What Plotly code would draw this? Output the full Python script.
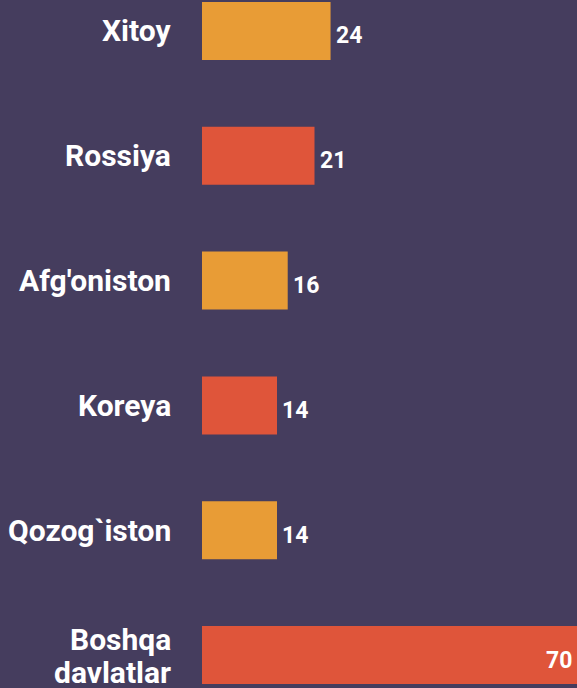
import plotly.graph_objects as go

categories = ["Xitoy", "Rossiya", "Afg'oniston", "Koreya", "Qozog`iston", "Boshqa davlatlar"]
label_lines = [["Xitoy"], ["Rossiya"], ["Afg'oniston"], ["Koreya"], ["Qozog`iston"], ["Boshqa", "davlatlar"]]
values = [24, 21, 16, 14, 14, 70]
colors = ["#e89c36", "#df553a", "#e89c36", "#df553a", "#e89c36", "#df553a"]
inside_label = [False, False, False, False, False, True]

BG = "#453d5e"
label_font = dict(family="Roboto", size=30, color="white", weight="bold")
value_font = dict(family="Roboto", size=23, color="white", weight="bold")

fig = go.Figure(go.Bar(
    x=values,
    y=categories,
    orientation="h",
    marker=dict(color=colors, line=dict(width=0)),
    width=0.465,
    hoverinfo="x+y",
))

annotations = []
for cat, lines in zip(categories, label_lines):
    n = len(lines)
    for i, line in enumerate(lines):
        shift = 0 if n == 1 else (16 if i == 0 else -17)
        annotations.append(dict(
            x=0, xref="paper", y=cat, yref="y",
            text=line, showarrow=False,
            xanchor="right", yanchor="middle",
            xshift=-29, yshift=shift,
            font=label_font,
        ))

for cat, v, inside in zip(categories, values, inside_label):
    annotations.append(dict(
        x=v, xref="x", y=cat, yref="y",
        text=str(v), showarrow=False,
        xanchor="right" if inside else "left", yanchor="middle",
        xshift=-3 if inside else 3, yshift=-5,
        font=value_font,
    ))

fig.update_layout(
    width=577,
    height=688,
    margin=dict(l=202, r=0, t=0, b=0),
    paper_bgcolor=BG,
    plot_bgcolor=BG,
    showlegend=False,
    xaxis=dict(range=[0, 70], visible=False, fixedrange=True),
    yaxis=dict(
        range=[5.264, -0.248],
        showgrid=False,
        zeroline=False,
        showline=False,
        showticklabels=False,
        ticks="",
        fixedrange=True,
    ),
    annotations=annotations,
)

fig.write_html(
    "out.html",
    config={"displayModeBar": False},
    post_script="document.body.style.margin='0';document.body.style.background='" + BG + "';",
)
